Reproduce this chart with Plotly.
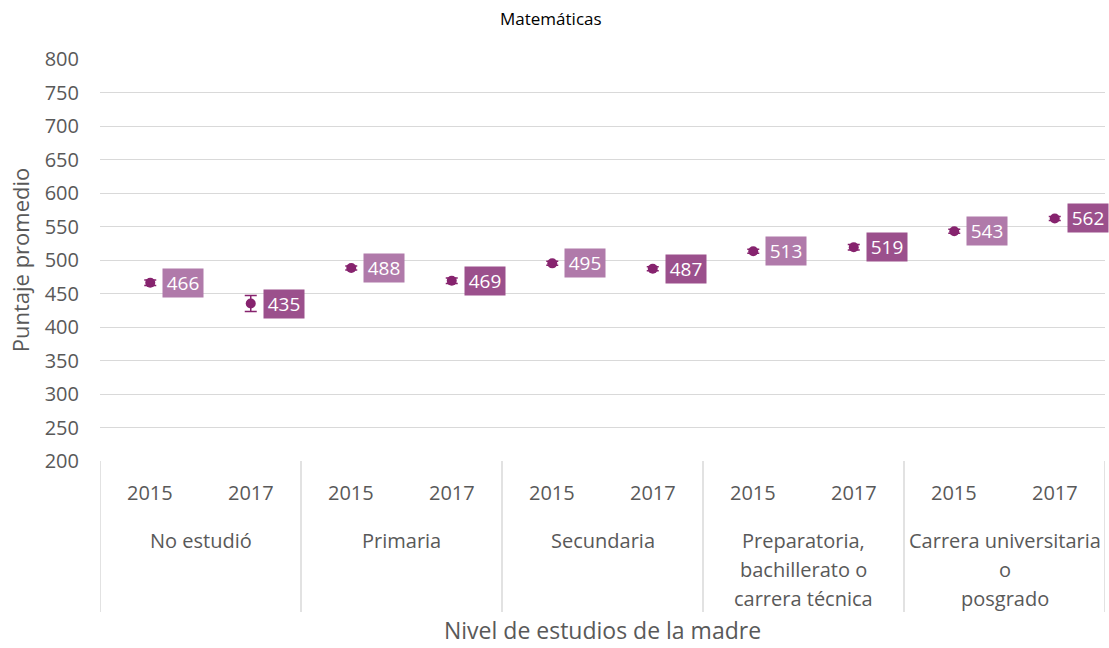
import plotly.graph_objects as go

niveles = ["No estudió", "Primaria", "Secundaria",
           "Preparatoria,<br>bachillerato o<br>carrera técnica",
           "Carrera universitaria<br>o<br>posgrado"]
anios = ["2015", "2017"]
puntajes = [466, 435, 488, 469, 495, 487, 513, 519, 543, 562]
errores = [4, 12, 3, 4, 3, 3, 3, 4, 3, 3]
y_ticks = list(range(200, 801, 50))

MARCA = "#86236E"
CAJA = {"2015": "#B07AAA", "2017": "#9B508C"}
GRIS = "#D9D9D9"
TEXTO = "#595959"
FUENTE = "'Open Sans', 'Noto Sans', sans-serif"

MARGEN_IZQ, MARGEN_DER, ANCHO = 100, 4, 1109
xs = list(range(len(puntajes)))
etiquetas_anio = [anios[i % 2] for i in xs]

fig = go.Figure()
fig.add_trace(go.Scatter(
    x=xs, y=puntajes, mode="markers",
    marker=dict(color=MARCA, size=10, symbol="circle"),
    error_y=dict(type="data", array=errores, color=MARCA, thickness=1.5, width=6),
    hoverinfo="skip", showlegend=False,
))

anotaciones = []
for x, v, a in zip(xs, puntajes, etiquetas_anio):
    anotaciones.append(dict(
        x=x, y=v, xref="x", yref="y", text=str(v), showarrow=False,
        xanchor="left", yanchor="middle", xshift=12,
        width=38, bgcolor=CAJA[a], borderpad=1,
        font=dict(family=FUENTE, size=19, color="white"),
    ))

# etiquetas de año bajo cada punto
for x, a in zip(xs, etiquetas_anio):
    anotaciones.append(dict(
        x=x, y=0, xref="x", yref="paper", text=a, showarrow=False,
        yanchor="middle", yshift=-31,
        font=dict(family=FUENTE, size=20, color=TEXTO),
    ))

# nombres de los niveles, una línea por anotación, centrados en cada par de años
for g, nombre in enumerate(niveles):
    for k, linea in enumerate(nombre.split("<br>")):
        anotaciones.append(dict(
            x=2 * g + 0.5, y=0, xref="x", yref="paper", text=linea,
            showarrow=False, yanchor="middle", yshift=-79 - 29 * k,
            font=dict(family=FUENTE, size=20, color=TEXTO),
        ))

# título centrado en la página
x_titulo = (ANCHO / 2 - 4 - MARGEN_IZQ) / (ANCHO - MARGEN_IZQ - MARGEN_DER)
anotaciones.append(dict(
    x=x_titulo, y=1, xref="paper", yref="paper", text="Matemáticas",
    showarrow=False, xanchor="center", yanchor="middle", yshift=41,
    font=dict(family=FUENTE, size=17, color="black"),
))
anotaciones.append(dict(
    x=0.5, y=0, xref="paper", yref="paper", text="Nivel de estudios de la madre",
    showarrow=False, yanchor="middle", yshift=-169,
    font=dict(family=FUENTE, size=23, color=TEXTO),
))

# separadores verticales entre niveles
formas = []
for g in range(len(niveles) + 1):
    formas.append(dict(
        type="line", xref="x", yref="paper",
        x0=2 * g - 0.5, x1=2 * g - 0.5, y0=0, y1=-151 / 402,
        line=dict(color=GRIS, width=1.5),
    ))

fig.update_layout(
    width=ANCHO, height=648,
    margin=dict(l=MARGEN_IZQ, r=MARGEN_DER, t=59, b=187),
    paper_bgcolor="white", plot_bgcolor="white",
    annotations=anotaciones, shapes=formas,
    xaxis=dict(range=[-0.5, 9.5], showticklabels=False, showgrid=False,
               zeroline=False, showline=False, fixedrange=True),
    yaxis=dict(range=[200, 800], tickvals=y_ticks, showgrid=True,
               gridcolor=GRIS, gridwidth=1, zeroline=False, showline=False,
               ticks="", ticklabelstandoff=20,
               tickfont=dict(family=FUENTE, size=20, color=TEXTO),
               title=dict(text="Puntaje promedio", standoff=8,
                          font=dict(family=FUENTE, size=22, color=TEXTO))),
)

fig.write_html("out.html")
